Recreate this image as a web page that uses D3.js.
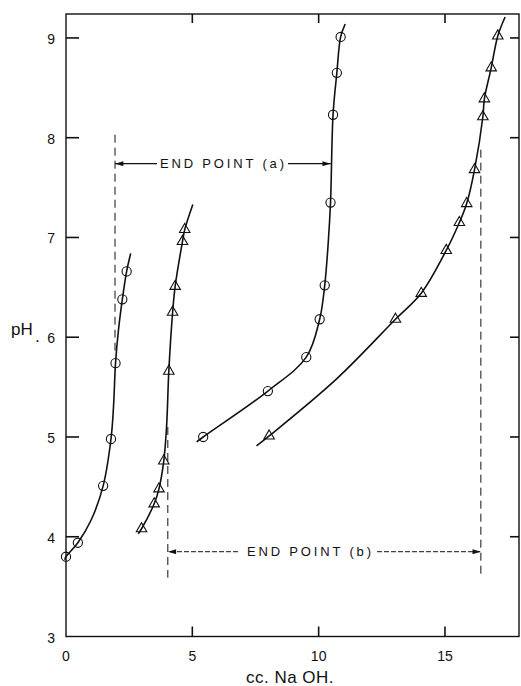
<!DOCTYPE html>
<html>
<head>
<meta charset="utf-8">
<script src="https://cdn.jsdelivr.net/npm/d3@7/dist/d3.min.js"></script>
<style>
  body { margin: 0; background: #fff; }
  svg { display: block; font-family: "Liberation Sans", Arial, sans-serif; }
</style>
</head>
<body>
<div id="chart"></div>
<script>
// tick values
const xTicks = [0, 5, 10, 15];
const yTicks = [3, 4, 5, 6, 7, 8, 9];

// measured points (cc NaOH, pH)
const circlesA = [[0, 3.80], [0.47, 3.94], [1.47, 4.51], [1.78, 4.98], [1.96, 5.74], [2.23, 6.38], [2.40, 6.66]];
const trianglesA = [[2.99, 4.08], [3.49, 4.33], [3.68, 4.48], [3.87, 4.76], [4.07, 5.66], [4.22, 6.25], [4.32, 6.51], [4.61, 6.96], [4.70, 7.08]];
const circlesB = [[5.43, 5.00], [7.99, 5.46], [9.51, 5.80], [10.04, 6.18], [10.24, 6.52], [10.47, 7.35], [10.57, 8.23], [10.72, 8.65], [10.87, 9.01]];
const trianglesB = [[8.04, 5.01], [13.04, 6.18], [14.06, 6.44], [15.05, 6.87], [15.57, 7.15], [15.86, 7.34], [16.17, 7.68], [16.50, 8.21], [16.56, 8.39], [16.83, 8.70], [17.09, 9.02]];

// smooth curves drawn through the points
const curveA1 = [[-0.05, 3.77], [0, 3.80], [0.47, 3.94], [1.0, 4.17], [1.47, 4.51], [1.78, 4.98], [1.88, 5.30], [1.96, 5.74], [2.08, 6.08], [2.23, 6.38], [2.40, 6.66], [2.56, 6.84]];
const curveA2 = [[2.86, 4.03], [2.99, 4.08], [3.49, 4.33], [3.68, 4.48], [3.87, 4.76], [3.98, 5.10], [4.07, 5.66], [4.22, 6.25], [4.32, 6.51], [4.61, 6.96], [4.70, 7.08], [5.02, 7.33]];
const curveB1 = [[5.17, 4.95], [5.43, 5.00], [7.99, 5.46], [9.51, 5.80], [10.04, 6.18], [10.24, 6.52], [10.38, 6.95], [10.47, 7.35], [10.57, 8.23], [10.72, 8.65], [10.87, 9.01], [11.05, 9.14]];
const curveB2 = [[7.54, 4.91], [8.04, 5.01], [10.70, 5.58], [13.04, 6.18], [14.06, 6.44], [15.05, 6.87], [15.57, 7.15], [15.86, 7.34], [16.17, 7.68], [16.50, 8.21], [16.56, 8.39], [16.83, 8.70], [17.09, 9.02], [17.38, 9.21]];

// end point markers
const endA = { from: 1.94, to: 10.48, pH: 7.74, top: 8.03, bottom: 5.85, label: "END POINT (a)" };
const endB = { from: 4.03, to: 16.42, pH: 3.85, leftTop: 5.10, rightTop: 7.88, bottom: 3.59, label: "END POINT (b)" };

const W = 521, H = 686;
const xMax = 17.93, yMax = 9.24;

const svg = d3.select("#chart").append("svg")
    .attr("width", W)
    .attr("height", H);

const x = d3.scaleLinear().domain([0, xMax]).range([66, 519]);
const y = d3.scaleLinear().domain([3, yMax]).range([636.5, 14]);

const ink = "#111";

// arrowheads
svg.append("defs").append("marker")
    .attr("id", "arrow")
    .attr("viewBox", "0 0 10 6")
    .attr("refX", 10).attr("refY", 3)
    .attr("markerWidth", 15).attr("markerHeight", 5)
    .attr("markerUnits", "userSpaceOnUse")
    .attr("orient", "auto")
    .append("path")
    .attr("d", "M0,0 L10,3 L0,6 Z")
    .attr("fill", ink);

// frame
svg.append("rect")
    .attr("x", x(0)).attr("y", y(yMax))
    .attr("width", x(xMax) - x(0))
    .attr("height", y(3) - y(yMax))
    .attr("fill", "none")
    .attr("stroke", ink)
    .attr("stroke-width", 1.4);

// inward ticks on all four sides
const xt = xTicks.slice(1), yt = yTicks.slice(1);
const ticks = [];
xt.forEach(d => {
    ticks.push({ x1: x(d), x2: x(d), y1: y(3), y2: y(3) - 10 });
    ticks.push({ x1: x(d), x2: x(d), y1: y(yMax), y2: y(yMax) + 9 });
});
yt.forEach(d => {
    ticks.push({ x1: x(0), x2: x(0) + 13, y1: y(d), y2: y(d) });
    ticks.push({ x1: x(xMax), x2: x(xMax) - 9, y1: y(d), y2: y(d) });
});
svg.selectAll("line.tick-mark")
    .data(ticks)
    .enter().append("line")
    .attr("class", "tick-mark")
    .attr("x1", d => d.x1).attr("x2", d => d.x2)
    .attr("y1", d => d.y1).attr("y2", d => d.y2)
    .attr("stroke", ink)
    .attr("stroke-width", 1.6);

// tick labels
svg.selectAll("text.ylab")
    .data(yTicks)
    .enter().append("text")
    .attr("class", "ylab")
    .attr("x", 55)
    .attr("y", d => y(d) + 6)
    .attr("text-anchor", "end")
    .attr("font-size", 14)
    .attr("fill", ink)
    .text(d => d);

svg.selectAll("text.xlab")
    .data(xTicks)
    .enter().append("text")
    .attr("class", "xlab")
    .attr("x", d => x(d))
    .attr("y", 661)
    .attr("text-anchor", "middle")
    .attr("font-size", 14)
    .attr("fill", ink)
    .text(d => d);

svg.append("text")
    .attr("x", 290).attr("y", 683)
    .attr("text-anchor", "middle")
    .attr("font-size", 17)
    .attr("letter-spacing", 0.5)
    .attr("fill", ink)
    .text("cc. Na OH.");

svg.append("text")
    .attr("x", 11).attr("y", 335)
    .attr("font-size", 17)
    .attr("fill", ink)
    .text("pH");
svg.append("text")
    .attr("x", 35).attr("y", 342)
    .attr("font-size", 17)
    .attr("fill", ink)
    .text(".");

// curves
const line = d3.line()
    .x(d => x(d[0]))
    .y(d => y(d[1]))
    .curve(d3.curveCatmullRom.alpha(0.5));

svg.selectAll("path.curve")
    .data([curveA1, curveA2, curveB1, curveB2])
    .enter().append("path")
    .attr("class", "curve")
    .attr("d", line)
    .attr("fill", "none")
    .attr("stroke", ink)
    .attr("stroke-width", 1.6);

// markers
svg.selectAll("circle.circ")
    .data(circlesA.concat(circlesB))
    .enter().append("circle")
    .attr("class", "circ")
    .attr("cx", d => x(d[0]))
    .attr("cy", d => y(d[1]))
    .attr("r", 4.6)
    .attr("fill", "none")
    .attr("stroke", ink)
    .attr("stroke-width", 1.1);

const tri = d3.symbol().type(d3.symbolTriangle).size(48);
svg.selectAll("path.tri")
    .data(trianglesA.concat(trianglesB))
    .enter().append("path")
    .attr("class", "tri")
    .attr("transform", d => `translate(${x(d[0])},${y(d[1])})`)
    .attr("d", tri)
    .attr("fill", "none")
    .attr("stroke", ink)
    .attr("stroke-width", 1.1);

// end point (a)
const dashV = "8,5";
svg.append("line")
    .attr("x1", x(endA.from)).attr("x2", x(endA.from))
    .attr("y1", y(endA.top)).attr("y2", y(endA.bottom))
    .attr("stroke", ink).attr("stroke-width", 1)
    .attr("stroke-dasharray", dashV);

svg.append("text")
    .attr("x", 160)
    .attr("y", y(endA.pH) + 4.5)
    .attr("font-size", 13)
    .attr("textLength", 124)
    .attr("lengthAdjust", "spacing")
    .attr("fill", ink)
    .text(endA.label);
svg.append("line")
    .attr("x1", 157).attr("x2", x(endA.from))
    .attr("y1", y(endA.pH)).attr("y2", y(endA.pH))
    .attr("stroke", ink).attr("stroke-width", 1.2)
    .attr("marker-end", "url(#arrow)");
svg.append("line")
    .attr("x1", 288).attr("x2", x(endA.to))
    .attr("y1", y(endA.pH)).attr("y2", y(endA.pH))
    .attr("stroke", ink).attr("stroke-width", 1.2)
    .attr("marker-end", "url(#arrow)");

// end point (b)
svg.append("line")
    .attr("x1", x(endB.from)).attr("x2", x(endB.from))
    .attr("y1", y(endB.leftTop)).attr("y2", y(endB.bottom))
    .attr("stroke", ink).attr("stroke-width", 1)
    .attr("stroke-dasharray", dashV);
svg.append("line")
    .attr("x1", x(endB.to)).attr("x2", x(endB.to))
    .attr("y1", y(endB.rightTop)).attr("y2", y(endB.bottom))
    .attr("stroke", ink).attr("stroke-width", 1)
    .attr("stroke-dasharray", dashV);

svg.append("text")
    .attr("x", 247)
    .attr("y", y(endB.pH) + 4.5)
    .attr("font-size", 13)
    .attr("textLength", 124)
    .attr("lengthAdjust", "spacing")
    .attr("fill", ink)
    .text(endB.label);
svg.append("line")
    .attr("x1", 238).attr("x2", x(endB.from))
    .attr("y1", y(endB.pH)).attr("y2", y(endB.pH))
    .attr("stroke", ink).attr("stroke-width", 1)
    .attr("stroke-dasharray", "5,2")
    .attr("marker-end", "url(#arrow)");
svg.append("line")
    .attr("x1", 377).attr("x2", x(endB.to))
    .attr("y1", y(endB.pH)).attr("y2", y(endB.pH))
    .attr("stroke", ink).attr("stroke-width", 1)
    .attr("stroke-dasharray", "5,2")
    .attr("marker-end", "url(#arrow)");
</script>
</body>
</html>
